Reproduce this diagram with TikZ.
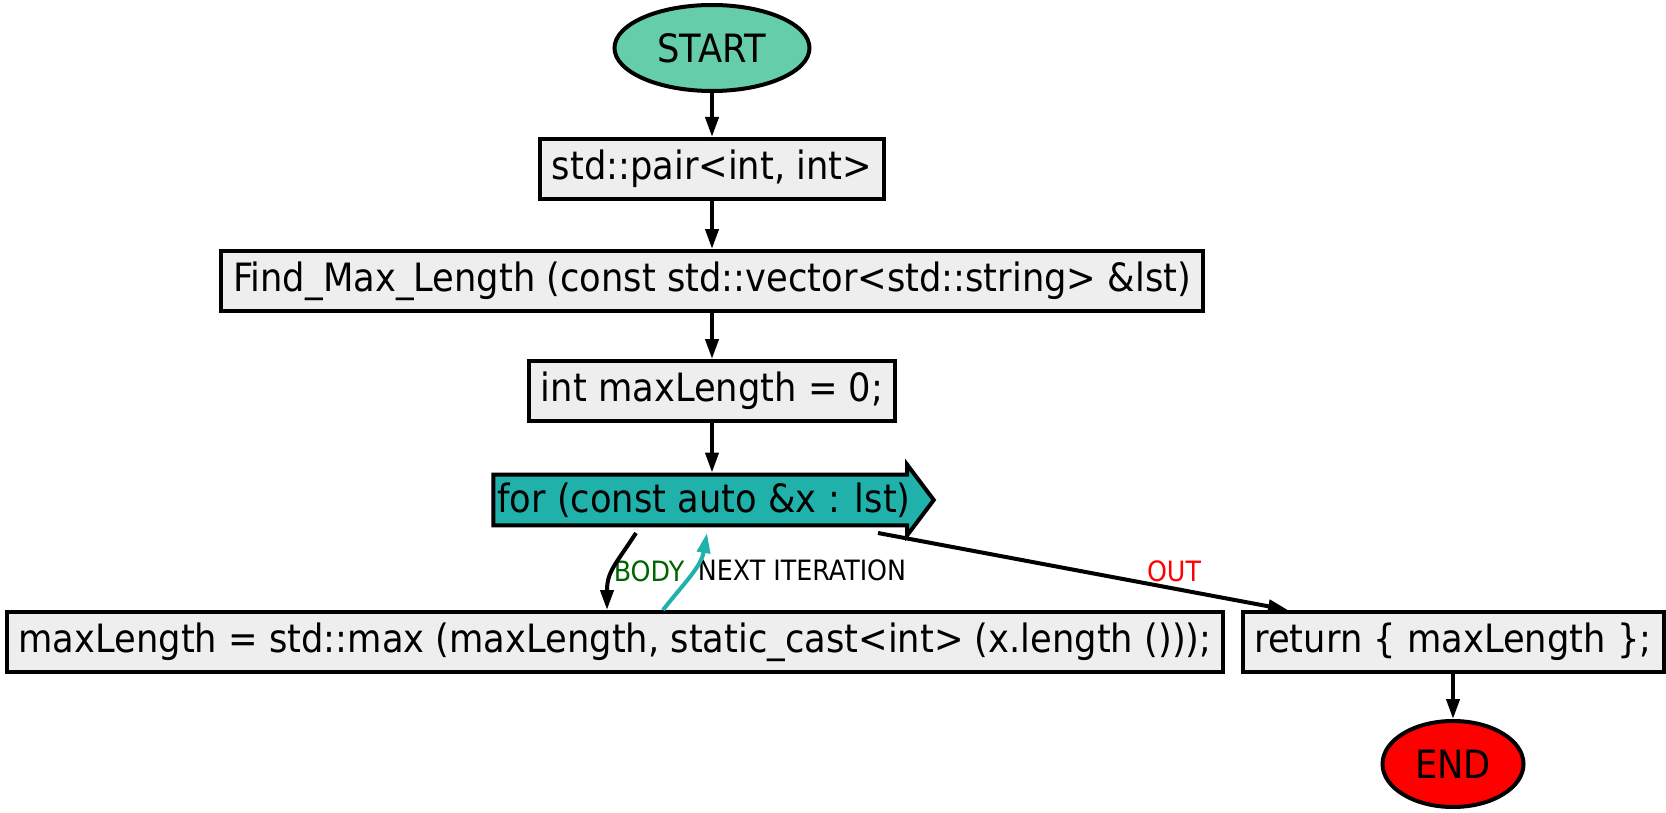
\documentclass[tikz,border=0pt]{standalone}
\usepackage{fontspec}
\setmainfont{DejaVu Sans}[FakeStretch=0.905]
\usetikzlibrary{shapes.geometric,shapes.arrows,arrows.meta}
\definecolor{startgreen}{HTML}{66CDAA}
\definecolor{loopteal}{HTML}{20B2AA}
\definecolor{boxgray}{HTML}{EEEEEE}
\definecolor{bodygreen}{HTML}{006400}
\tikzset{
  stmt/.style={draw, line width=2pt, fill=boxgray, minimum height=30pt,
    inner xsep=6pt, font=\fontsize{19.5}{22}\selectfont},
  terminal/.style={ellipse, draw, line width=2pt, inner sep=0pt,
    font=\fontsize{19.5}{22}\selectfont},
  loophead/.style={single arrow, draw, line width=2pt, fill=loopteal,
    inner xsep=1pt, inner ysep=3pt, single arrow head extend=5pt,
    single arrow tip angle=106, font=\fontsize{19.5}{22}\selectfont},
  edge/.style={line width=2pt, -{Triangle[length=10pt,width=6.5pt]}},
  tag/.style={font=\fontsize{14}{16}\selectfont, inner sep=0pt}
}
\begin{document}
\begin{tikzpicture}[x=0.5pt,y=0.5pt]
    \useasboundingbox (0,0) rectangle (1666,-813);
    % Nodes
    \node[terminal, fill=startgreen, minimum width=97.5pt, minimum height=43pt] (start) at (712,-48) {START};
    \node[stmt] (pair) at (712,-169) {std::pair<int, int>};
    \node[stmt] (find) at (712,-281) {Find\_Max\_Length (const std::vector<std::string> \&lst)};
    \node[stmt] (init) at (712,-391) {int maxLength = 0;};
    \node[loophead] (loop) at (704,-500) {for (const auto \&x : lst)};
    \node[stmt] (body) at (615,-642) {maxLength = std::max (maxLength, static\_cast<int> (x.length ()));};
    \node[stmt] (ret) at (1453,-642) {return \{ maxLength \};};
    \node[terminal, fill=red, minimum width=70.5pt, minimum height=43pt] (end) at (1453,-764) {END};
    % Labels
    \node[tag, text=bodygreen] (lbody) at (649,-571) {BODY};
    \node[tag] (lnext) at (802,-570) {NEXT ITERATION};
    \node[tag, text=red] (lout) at (1174,-571) {OUT};
    % Edges
    \draw[edge] (start) -- (pair);
    \draw[edge] (pair) -- (find);
    \draw[edge] (find) -- (init);
    \draw[edge] (init) -- (init |- loop.north);
    \draw[edge] ([shift={(-68,-33)}]loop.center) to[out=237, in=90, looseness=1.2] ([xshift=-4pt]body.north);
    \draw[edge, loopteal] ([xshift=24pt]body.north) to[out=52, in=-100] ([shift={(3,-33)}]loop.center);
    \draw[edge] ([shift={(174,-33)}]loop.center) -- ([xshift=-82.5pt]ret.north);
    \draw[edge] (ret) -- (end);
\end{tikzpicture}
\end{document}
